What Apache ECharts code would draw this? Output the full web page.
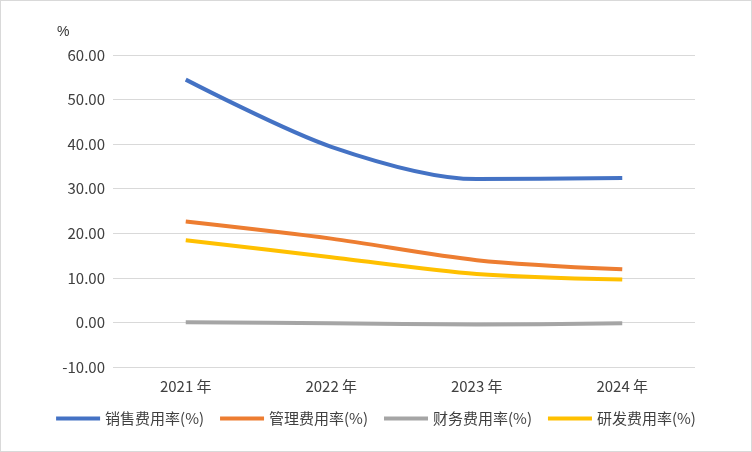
<!DOCTYPE html>
<html lang="zh">
<head>
    <meta charset="UTF-8">
    <title>费用率</title>
    <script src="https://cdn.jsdelivr.net/npm/echarts@6/dist/echarts.min.js"></script>
    <style>
        html, body { margin: 0; padding: 0; background: #fff; }
        #main { width: 750px; height: 450px; border: 1px solid #d9d9d9; }
    </style>
</head>
<body>
<div id="main"></div>
<script>
    var years = ['2021 年', '2022 年', '2023 年', '2024 年'];
    var sales = [54.48, 39.41, 32.16, 32.39];
    var admin = [22.64, 18.80, 13.97, 11.91];
    var finance = [0.05, -0.18, -0.48, -0.19];
    var rd = [18.45, 14.64, 10.87, 9.61];

    var font = 'Microsoft YaHei, Noto Sans CJK SC, sans-serif';
    var myChart = echarts.init(document.getElementById('main'));

    function mk(name, data, color, pos, dist) {
        return {
            name: name, type: 'line', data: data, smooth: 0.3,
            symbol: 'circle', symbolSize: 2, showSymbol: true,
            lineStyle: { width: 4, color: color },
            itemStyle: { color: color, opacity: 0 },
            label: {
                show: true, position: pos, distance: dist, color: '#404040', fontSize: 15,
                fontFamily: font, formatter: function (p) { return p.value.toFixed(2); }
            }
        };
    }

    var option = {
        animation: false,
        textStyle: { fontFamily: font },
        graphic: [{ type: 'text', left: 56, top: 24, style: { text: '%', fontSize: 14, fill: '#333', font: '14px ' + font } }],
        grid: { left: 112, right: 56, top: 54, bottom: 84 },
        legend: {
            bottom: 20, itemWidth: 44, itemHeight: 4, itemGap: 16, icon: 'rect',
            textStyle: { fontSize: 15, color: '#404040' },
            itemStyle: { opacity: 1 },
            data: ['销售费用率(%)', '管理费用率(%)', '财务费用率(%)', '研发费用率(%)']
        },
        xAxis: {
            type: 'category', data: years,
            axisLine: { show: false }, axisTick: { show: false },
            axisLabel: { fontSize: 15, color: '#404040', margin: 12 }
        },
        yAxis: {
            type: 'value', min: -10, max: 60, interval: 10,
            axisLabel: { fontSize: 15, color: '#404040', formatter: function (v) { return v.toFixed(2); } },
            splitLine: { lineStyle: { color: '#d9d9d9' } }
        },
        series: [
            mk('销售费用率(%)', sales, '#4472c4', 'inside', 0),
            mk('管理费用率(%)', admin, '#ed7d31', 'top', 14),
            mk('财务费用率(%)', finance, '#a5a5a5', 'inside', 0),
            mk('研发费用率(%)', rd, '#ffc000', 'bottom', 14)
        ]
    };
    myChart.setOption(option, true);
</script>
</body>
</html>
